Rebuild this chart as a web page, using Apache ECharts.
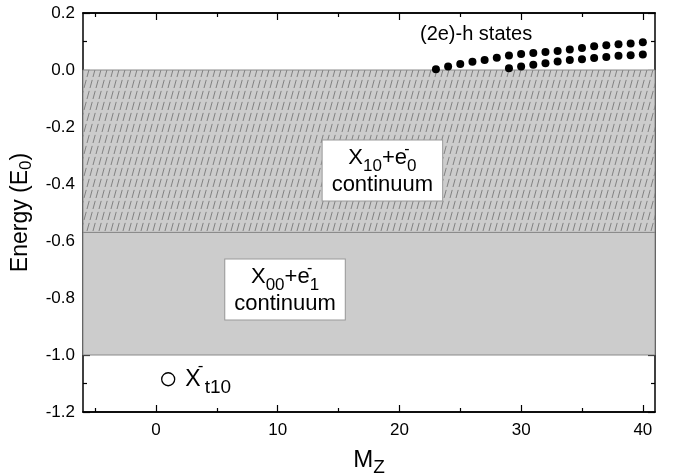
<!DOCTYPE html>
<html>
<head>
<meta charset="utf-8">
<script src="https://cdn.jsdelivr.net/npm/echarts@6/dist/echarts.min.js"></script>
<style>
  html, body { margin: 0; padding: 0; background: #fff; }
  #chart { width: 678px; height: 476px; }
</style>
</head>
<body>
<div id="chart"></div>
<script>
  // (2e)-h states, two branches
  const upperMz = [23, 24, 25, 26, 27, 28, 29, 30, 31, 32, 33, 34, 35, 36, 37, 38, 39, 40];
  const upperE = [0.003, 0.012, 0.021, 0.029, 0.035, 0.043, 0.051, 0.056, 0.060, 0.063, 0.067, 0.072, 0.077, 0.083, 0.087, 0.090, 0.093, 0.097];
  const lowerMz = [29, 30, 31, 32, 33, 34, 35, 36, 37, 38, 39, 40];
  const lowerE = [0.006, 0.012, 0.018, 0.024, 0.030, 0.035, 0.038, 0.042, 0.046, 0.050, 0.052, 0.054];
  // bound trion
  const trionMz = [1];
  const trionE = [-1.085];
  // continuum edges: top of X10+e0, top of X00+e1, bottom of X00+e1
  const bandEdges = [0, -0.57, -1.0];
  // ticks
  const xMajorTicks = [0, 10, 20, 30, 40];
  const xMinorTicks = [-5, 5, 15, 25, 35];
  // annotation anchors (Mz, E)
  const statesNote = [26.3, 0.124];
  const upperBandNote = [18.6, -0.353];
  const lowerBandNote = [10.6, -0.77];

  const fontFamily = 'Liberation Sans, Arial, Helvetica, sans-serif';

  const makeHatch = () => {
    const c = document.createElement('canvas');
    c.width = 6;
    c.height = 22;
    const g = c.getContext('2d');
    g.fillStyle = '#cccccc';
    g.fillRect(0, 0, 6, 22);
    g.strokeStyle = '#787878';
    g.lineWidth = 0.9;
    g.setLineDash([8.4, 3]);
    for (const dx of [-6, 0, 6]) {
      g.beginPath();
      g.moveTo(dx, 22);
      g.lineTo(dx + 6, 0);
      g.stroke();
    }
    return c;
  };

  const txt = { fontFamily, color: '#000', align: 'center' };
  const rich = {
    big: { ...txt, fontSize: 22, lineHeight: 30 },
    sub: { ...txt, fontSize: 17, lineHeight: 30, padding: [18, 0, 0, 0] },
    sup: { ...txt, fontSize: 16, lineHeight: 30, padding: [0, 0, 16, 0], width: 0 },
    line2: { ...txt, fontSize: 22, lineHeight: 24 },
  };
  const trionRich = {
    big: { ...txt, fontSize: 23, lineHeight: 30 },
    sub: { ...txt, fontSize: 19, lineHeight: 30, padding: [18, 0, 0, 0] },
    sup: { ...txt, fontSize: 17, lineHeight: 30, padding: [0, 4, 25, 0], width: 0 },
  };

  const boxLabel = (text) => ({
    show: true,
    position: 'inside',
    formatter: text,
    backgroundColor: '#fff',
    borderColor: '#999',
    borderWidth: 1,
    padding: [2, 9, 4, 9],
    rich,
  });

  const xBase = {
    type: 'value',
    min: -6,
    max: 41,
    splitLine: { show: false },
    axisLine: { show: true, onZero: false, lineStyle: { color: '#000', width: 1.5 } },
  };
  const tickStyle = { color: '#000', width: 1.2 };

  const yBase = {
    type: 'value',
    min: -1.2,
    max: 0.2,
    interval: 0.2,
    splitLine: { show: false },
    axisLine: { show: true, onZero: false, lineStyle: { color: '#000', width: 1.5 } },
    axisTick: { show: true, inside: true, length: 7, lineStyle: tickStyle },
    minorTick: { show: true, splitNumber: 2, length: 4, lineStyle: tickStyle },
  };

  const option = {
    animation: false,
    backgroundColor: '#fff',
    grid: { left: 83, right: 23, top: 13, bottom: 64, containLabel: false, outerBoundsMode: 'none' },
    xAxis: [
      {
        ...xBase,
        position: 'bottom',
        axisTick: { show: true, inside: true, length: 7, customValues: xMajorTicks, lineStyle: tickStyle },
        axisLabel: { customValues: xMajorTicks, fontSize: 17, color: '#000', margin: 10, fontFamily },
        name: '{m|M}{z|Z}',
        nameLocation: 'middle',
        nameGap: 32,
        nameTextStyle: {
          rich: {
            m: { fontSize: 24, lineHeight: 30, fontFamily, color: '#000' },
            z: { fontSize: 19, lineHeight: 30, fontFamily, color: '#000', padding: [14, 0, 0, 0] },
          },
        },
      },
      {
        ...xBase,
        position: 'bottom',
        axisTick: { show: true, inside: true, length: 4, customValues: xMinorTicks, lineStyle: tickStyle },
        axisLabel: { show: false },
      },
      {
        ...xBase,
        position: 'top',
        axisTick: { show: true, inside: true, length: 7, customValues: xMajorTicks, lineStyle: tickStyle },
        axisLabel: { show: false },
      },
      {
        ...xBase,
        position: 'top',
        axisTick: { show: true, inside: true, length: 4, customValues: xMinorTicks, lineStyle: tickStyle },
        axisLabel: { show: false },
      },
    ],
    yAxis: [
      {
        ...yBase,
        position: 'left',
        axisLabel: { fontSize: 17, color: '#000', margin: 8, fontFamily, formatter: (v) => v.toFixed(1) },
        name: '{n|Energy (E}{s|0}{n|)}',
        nameLocation: 'middle',
        nameGap: 44,
        nameTextStyle: {
          rich: {
            n: { fontSize: 23, lineHeight: 30, fontFamily, color: '#000' },
            s: { fontSize: 17, lineHeight: 30, fontFamily, color: '#000', padding: [12, 0, 0, 0] },
          },
        },
      },
      { ...yBase, position: 'right', axisLabel: { show: false } },
    ],
    series: [
      {
        name: 'bands',
        type: 'line',
        data: [],
        z: 1,
        markArea: {
          silent: true,
          data: [
            [
              { yAxis: bandEdges[0], itemStyle: { color: { image: makeHatch(), repetition: 'repeat' }, borderColor: '#8a8a8a', borderWidth: 1 } },
              { yAxis: bandEdges[1] },
            ],
            [
              { yAxis: bandEdges[1], itemStyle: { color: '#cccccc', borderColor: '#8a8a8a', borderWidth: 1 } },
              { yAxis: bandEdges[2] },
            ],
          ],
        },
      },
      {
        name: 'upper',
        type: 'scatter',
        z: 3,
        symbolSize: 8,
        itemStyle: { color: '#000', opacity: 1 },
        data: upperMz.map((m, i) => [m, upperE[i]]),
      },
      {
        name: 'lower',
        type: 'scatter',
        z: 3,
        symbolSize: 8,
        itemStyle: { color: '#000', opacity: 1 },
        data: lowerMz.map((m, i) => [m, lowerE[i]]),
      },
      {
        name: 'trion',
        type: 'scatter',
        z: 3,
        symbolSize: 13,
        itemStyle: { color: '#fff', borderColor: '#000', borderWidth: 1.3, opacity: 1 },
        label: {
          show: true,
          position: 'right',
          distance: 10,
          formatter: '{big|X}{sup|-}{sub|t10}',
          rich: trionRich,
        },
        data: trionMz.map((m, i) => [m, trionE[i]]),
      },
      {
        name: 'notes',
        type: 'scatter',
        z: 4,
        symbolSize: 0,
        silent: true,
        itemStyle: { opacity: 1 },
        data: [
          {
            value: statesNote,
            label: { show: true, position: 'inside', formatter: '(2e)-h states', fontSize: 20, color: '#000', fontFamily },
          },
          {
            value: upperBandNote,
            label: boxLabel('{big|X}{sub|10}{big|+e}{sup|-}{sub|0}\n{line2|continuum}'),
          },
          {
            value: lowerBandNote,
            label: boxLabel('{big|X}{sub|00}{big|+e}{sup|-}{sub|1}\n{line2|continuum}'),
          },
        ],
      },
    ],
  };

  const chart = echarts.init(document.getElementById('chart'));
  chart.setOption(option);
</script>
</body>
</html>
